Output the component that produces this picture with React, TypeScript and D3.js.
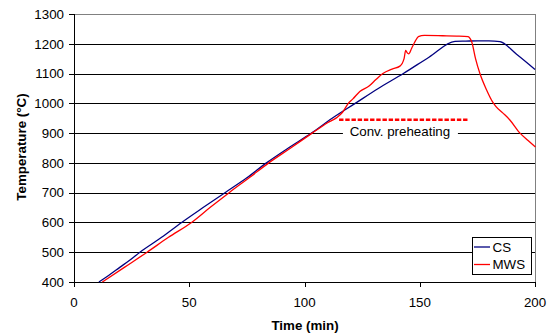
import React from "react";
import * as d3 from "d3";

const xTicks = [0, 50, 100, 150, 200];
const yTicks = [400, 500, 600, 700, 800, 900, 1000, 1100, 1200, 1300];

const csTime = [10.8, 15, 20, 24, 28.6, 38, 46.7, 56, 65.5, 75, 83.5, 93, 103, 112, 122, 132, 142.9, 154, 165.3, 170, 175, 180, 184.8, 192, 200];
const csTemp = [400, 422, 450, 472, 500, 550, 600, 650, 700, 750, 800, 850, 900, 950, 1000, 1050, 1100, 1155, 1208, 1209, 1210, 1210, 1207, 1165, 1114];

const mwsTime = [12.3, 22, 31.7, 41, 51, 59, 67.3, 76, 84.5, 94, 103.3, 110, 114, 116.5, 119, 121, 124, 128, 131, 134, 138, 141.4, 143.2, 143.9, 144.5, 145.2, 146.5, 148, 149.4, 152, 160, 166, 171, 171.8, 172.6, 174.2, 176.1, 179, 181.6, 183, 186, 189, 193.5, 197, 200.2];
const mwsTemp = [400, 450, 500, 550, 600, 650, 700, 750, 800, 850, 900, 935, 952, 970, 1000, 1015, 1040, 1058, 1080, 1100, 1115, 1125, 1150, 1178, 1170, 1166, 1185, 1208, 1224, 1228, 1227, 1226, 1224, 1218, 1205, 1150, 1100, 1045, 1005, 990, 968, 945, 900, 875, 853];

const preheatTime = [115, 171];
const preheatTemp = 945;
const preheatLabel = "Conv. preheating";
const labelTemp = 900;
const labelTime = 141.4;

const series = [
  { name: "CS", color: "#000080", t: csTime, v: csTemp },
  { name: "MWS", color: "#FF0000", t: mwsTime, v: mwsTemp },
];

export default function App() {
  const W = 550, H = 335;
  const x = d3.scaleLinear().domain([0, 200]).range([74, 535]);
  const y = d3.scaleLinear().domain([400, 1300]).range([282, 14]);
  const font = "Arial, 'Liberation Sans', sans-serif";
  const fs = 13.33;
  const line = d3.line<[number, number]>().x((d) => x(d[0])).y((d) => y(d[1])).curve(d3.curveMonotoneX);
  const labelX = x(labelTime);
  const labelHalf = 57;

  return (
    <svg width={W} height={H} style={{ position: "absolute", left: 0, top: 0 }} fontFamily={font}>
      <rect x={0} y={0} width={W} height={H} fill="#fff" />
      {yTicks.map((t) => {
        const yy = Math.round(y(t)) + 0.5;
        if (t === labelTemp) {
          return (
            <g key={t}>
              <line x1={x(0)} x2={labelX - labelHalf} y1={yy} y2={yy} stroke="#000" strokeWidth={1} />
              <line x1={labelX + labelHalf + 1} x2={x(200)} y1={yy} y2={yy} stroke="#000" strokeWidth={1} />
            </g>
          );
        }
        return <line key={t} x1={x(0)} x2={x(200)} y1={yy} y2={yy} stroke={t === 1300 ? "#808080" : "#000"} strokeWidth={1} />;
      })}
      <line x1={Math.round(x(200)) + 0.5} x2={Math.round(x(200)) + 0.5} y1={y(1300)} y2={y(400)} stroke="#808080" />
      <line x1={Math.round(x(0)) + 0.5} x2={Math.round(x(0)) + 0.5} y1={y(1300)} y2={y(400) + 1} stroke="#000" />
      <line x1={x(0)} x2={x(200) + 1} y1={Math.round(y(400)) + 0.5} y2={Math.round(y(400)) + 0.5} stroke="#000" />
      {yTicks.map((t) => (
        <g key={"yt" + t}>
          <line x1={x(0) - 5} x2={x(0)} y1={Math.round(y(t)) + 0.5} y2={Math.round(y(t)) + 0.5} stroke="#000" />
          <text x={64} y={y(t)} dy="0.36em" textAnchor="end" fontSize={fs} fill="#000">{t}</text>
        </g>
      ))}
      {xTicks.map((t) => (
        <g key={"xt" + t}>
          <line x1={Math.round(x(t)) + 0.5} x2={Math.round(x(t)) + 0.5} y1={y(400)} y2={y(400) + 5} stroke="#000" />
          <text x={x(t)} y={307} textAnchor="middle" fontSize={fs} fill="#000">{t}</text>
        </g>
      ))}
      <text x={305} y={330} textAnchor="middle" fontSize={fs} fontWeight="bold" fill="#000">Time (min)</text>
      <text transform={`translate(26,147) rotate(-90)`} textAnchor="middle" fontSize={fs} fontWeight="bold" fill="#000">Temperature (°C)</text>
      <text x={labelX} y={136} textAnchor="middle" fontSize={fs} fill="#000">{preheatLabel}</text>
      <line x1={x(preheatTime[0])} x2={x(preheatTime[1])} y1={y(preheatTemp)} y2={y(preheatTemp)} stroke="#FF0000" strokeWidth={2.5} strokeDasharray="4.4,1.8" />
      {series.map((s) => (
        <path key={s.name} d={line(s.t.map((t, i) => [t, s.v[i]] as [number, number])) || ""} fill="none" stroke={s.color} strokeWidth={1.3} strokeLinejoin="round" />
      ))}
      <rect x={472.5} y={237.5} width={59} height={37} fill="#fff" stroke="#000" strokeWidth={1} />
      {series.map((s, i) => (
        <g key={"lg" + s.name}>
          <line x1={474} x2={490} y1={247 + i * 17.5} y2={247 + i * 17.5} stroke={s.color} strokeWidth={1.3} />
          <text x={492.5} y={247 + i * 17.5} dy="0.36em" fontSize={fs} fill="#000">{s.name}</text>
        </g>
      ))}
    </svg>
  );
}
